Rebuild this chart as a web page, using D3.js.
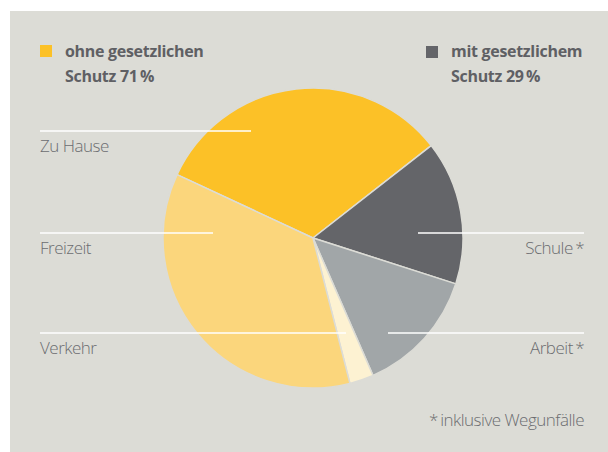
<!DOCTYPE html>
<html><head><meta charset="utf-8">
<script src="https://cdn.jsdelivr.net/npm/d3@7"></script>
<style>
html,body{margin:0;padding:0;background:#ffffff;}
svg{display:block;}
text{font-family:"Open Sans","Noto Sans",sans-serif;}
</style></head>
<body>
<script>
const categories = ["Zu Hause", "Schule", "Arbeit", "Verkehr", "Freizeit"];
const values = [32.5, 15.5, 13.5, 2.6, 35.9];
const colors = ["#fcc127", "#646569", "#a1a6a8", "#fdf2d2", "#fbd67c"];
const labelTexts = ["Zu Hause", "Schule\u2009*", "Arbeit\u2009*", "Verkehr", "Freizeit"];
const legendLabels = [["ohne gesetzlichen", "Schutz 71\u2009%"], ["mit gesetzlichem", "Schutz 29\u2009%"]];
const legendColors = ["#fcc127", "#646569"];
const footnote = "*\u2009inklusive Wegunfälle";

const W = 608, H = 452;
const svg = d3.select("body").append("svg").attr("width", W).attr("height", H);
svg.append("rect").attr("x", 10).attr("y", 11).attr("width", W - 10).attr("height", H - 11).attr("fill", "#dcdcd6");

const cx = 313, cy = 238, R = 150;
const pie = d3.pie().sort(null).startAngle(-65 * Math.PI / 180).endAngle(295 * Math.PI / 180);
const arcs = pie(values);
const arc = d3.arc().innerRadius(0).outerRadius(R);
const g = svg.append("g").attr("transform", `translate(${cx},${cy})`);
g.selectAll("path").data(arcs).enter().append("path")
  .attr("d", arc).attr("fill", (d, i) => colors[i])
  .attr("stroke", "#dcdcd6").attr("stroke-width", 1.5).attr("stroke-linejoin", "round");

const labelInfo = [
  {side: "left", y: 131, x2: 251},
  {side: "right", y: 233, x1: 418},
  {side: "right", y: 333, x1: 388},
  {side: "left", y: 333, x2: 346},
  {side: "left", y: 233, x2: 213}
];
const textColor = "#6b6c70";
labelInfo.forEach((L, i) => {
  const x1 = L.side === "left" ? 40 : L.x1;
  const x2 = L.side === "left" ? L.x2 : 584;
  svg.append("line").attr("x1", x1).attr("x2", x2).attr("y1", L.y).attr("y2", L.y)
    .attr("stroke", "#ffffff").attr("stroke-width", 1.5);
  svg.append("text")
    .attr("x", L.side === "left" ? 40 : 584)
    .attr("y", L.y + 21)
    .attr("text-anchor", L.side === "left" ? "start" : "end")
    .attr("font-size", 17).attr("font-weight", 300).attr("letter-spacing", -0.5)
    .attr("fill", textColor)
    .text(labelTexts[i]);
});

const legendPos = [{sx: 40, sy: 45, tx: 65}, {sx: 426, sy: 46, tx: 451}];
legendPos.forEach((p, i) => {
  svg.append("rect").attr("x", p.sx).attr("y", p.sy).attr("width", 12).attr("height", 12).attr("fill", legendColors[i]);
  legendLabels[i].forEach((t, j) => {
    svg.append("text").attr("x", p.tx).attr("y", 57 + j * 25)
      .attr("font-size", 16).attr("font-weight", 700).attr("letter-spacing", -0.3)
      .attr("fill", "#5f6064").text(t);
  });
});

svg.append("text").attr("x", 584).attr("y", 426).attr("text-anchor", "end")
  .attr("font-size", 17).attr("font-weight", 300).attr("letter-spacing", -0.5)
  .attr("fill", textColor).text(footnote);
</script>
</body></html>
